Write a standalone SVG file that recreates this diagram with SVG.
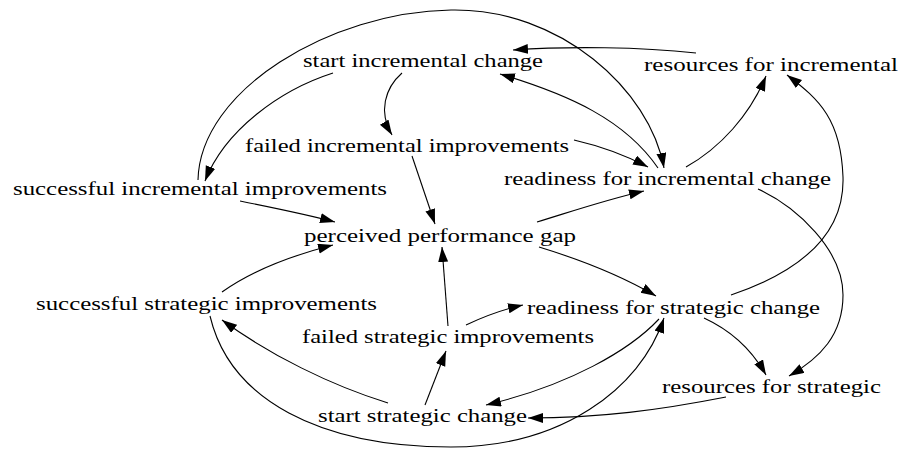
<svg xmlns="http://www.w3.org/2000/svg" width="902" height="449" viewBox="0 0 902 449">
<style>
.n text{font-family:"Liberation Serif","Times New Roman",serif;font-size:18px;fill:#000}
.e path{fill:none;stroke:#000;stroke-width:1.1;marker-end:url(#ah)}
</style>
<defs>
<marker id="ah" markerUnits="userSpaceOnUse" markerWidth="16" markerHeight="11" refX="15" refY="5" orient="auto">
<path d="M0,0 L15,5 L0,10 z" fill="#000"/>
</marker>
</defs>
<rect width="902" height="449" fill="#fff"/>
<g id="edges" class="e">
<path d="M198,180 C200,90 330,12 451,10 C560,8 650,90 664,168"/>
<path d="M333,73 C280,90 225,130 205,181"/>
<path d="M402,73 C385,88 378,112 392,135"/>
<path d="M412,156 L435,224"/>
<path d="M240,201 C270,207 305,214 335,222"/>
<path d="M696,53 C640,47 570,46 513,50"/>
<path d="M658,168 C625,120 570,95 500,74"/>
<path d="M574,140 C600,146 625,155 648,167"/>
<path d="M686,167 C720,148 750,115 766,76"/>
<path d="M731,295 C790,275 845,240 843,177 C841,120 820,100 787,75"/>
<path d="M758,189 C797,207 843,250 843,295 C843,335 820,358 789,376"/>
<path d="M537,222 C570,212 605,200 644,191"/>
<path d="M539,247 C575,258 620,275 656,296"/>
<path d="M222,292 C250,272 290,256 333,245"/>
<path d="M448,326 L442,247"/>
<path d="M388,403 C330,385 270,355 222,320"/>
<path d="M425,405 L446,351"/>
<path d="M210,316 C230,400 320,447 451,447 C560,447 640,390 664,318"/>
<path d="M659,319 C630,350 570,385 486,405"/>
<path d="M466,325 C485,316 505,309 523,305"/>
<path d="M704,318 C730,330 752,350 766,375"/>
<path d="M726,397 C660,410 600,418 528,418"/>
</g>
<g id="start_incremental_change" class="n"><text x="303" y="67" textLength="240" lengthAdjust="spacingAndGlyphs">start incremental change</text></g>
<g id="resources_for_incremental" class="n"><text x="644" y="71" textLength="254" lengthAdjust="spacingAndGlyphs">resources for incremental</text></g>
<g id="failed_incremental_improvements" class="n"><text x="245" y="152" textLength="324" lengthAdjust="spacingAndGlyphs">failed incremental improvements</text></g>
<g id="successful_incremental_improvements" class="n"><text x="13" y="195" textLength="374" lengthAdjust="spacingAndGlyphs">successful incremental improvements</text></g>
<g id="readiness_for_incremental_change" class="n"><text x="504" y="185" textLength="327" lengthAdjust="spacingAndGlyphs">readiness for incremental change</text></g>
<g id="perceived_performance_gap" class="n"><text x="304" y="242" textLength="272" lengthAdjust="spacingAndGlyphs">perceived performance gap</text></g>
<g id="successful_strategic_improvements" class="n"><text x="36" y="310" textLength="341" lengthAdjust="spacingAndGlyphs">successful strategic improvements</text></g>
<g id="readiness_for_strategic_change" class="n"><text x="527" y="314" textLength="293" lengthAdjust="spacingAndGlyphs">readiness for strategic change</text></g>
<g id="failed_strategic_improvements" class="n"><text x="302" y="343" textLength="292" lengthAdjust="spacingAndGlyphs">failed strategic improvements</text></g>
<g id="resources_for_strategic" class="n"><text x="662" y="393" textLength="219" lengthAdjust="spacingAndGlyphs">resources for strategic</text></g>
<g id="start_strategic_change" class="n"><text x="318" y="422" textLength="209" lengthAdjust="spacingAndGlyphs">start strategic change</text></g>
</svg>
